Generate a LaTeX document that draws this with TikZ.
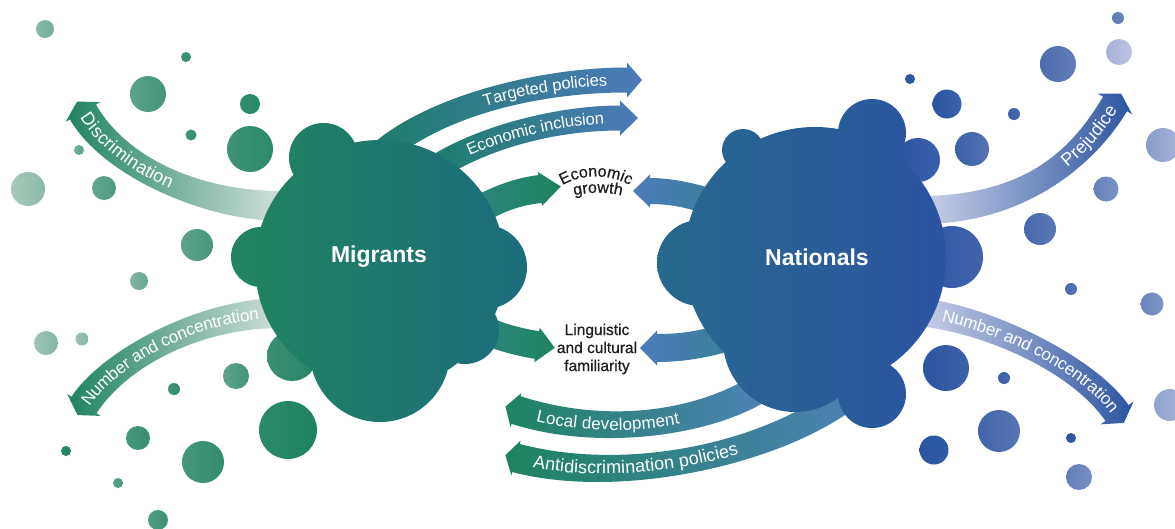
\documentclass[tikz,border=0pt]{standalone}
\usepackage{fontspec}
\setmainfont{Liberation Sans}
\newfontface\medface{Liberation Sans}[FakeBold=0.7]
\usetikzlibrary{calc,decorations.text}
\definecolor{mg}{HTML}{1E8360}
\definecolor{gl}{HTML}{C3D5CC}
\definecolor{bb}{HTML}{2B55A0}
\definecolor{bl}{HTML}{BDC3E3}
\definecolor{txtc}{HTML}{1E1E1E}
\definecolor{HTMLa}{HTML}{1F7D6B}
\definecolor{HTMLb}{HTML}{4C7BBB}
\definecolor{HTMLc}{HTML}{3B8E72}
\definecolor{HTMLd}{HTML}{28856A}
\definecolor{tealG}{HTML}{2E8580}
\definecolor{blueL}{HTML}{4B7CBC}
\definecolor{tealB}{HTML}{3A7F98}
\definecolor{blueT}{HTML}{4E82B9}
\newcommand\gbub[5]{\shade[left color=mg!#4!gl, right color=mg!#5!gl] (#1,#2) circle[radius=#3];}
\newcommand\bbub[5]{\shade[left color=bb!#4!bl, right color=bb!#5!bl] (#1,#2) circle[radius=#3];}
\newcommand\fatarrow[9]{%
  \coordinate (#1-p0) at (#2); \coordinate (#1-p1) at (#3);
  \coordinate (#1-p2) at (#4); \coordinate (#1-p3) at (#5);
  \coordinate (#1-a0) at ($(#1-p0)!#6!90:(#1-p1)$);
  \coordinate (#1-a1) at ($(#1-p1)!#6!-90:(#1-p0)$);
  \coordinate (#1-a2) at ($(#1-p2)!#6!90:(#1-p3)$);
  \coordinate (#1-a3) at ($(#1-p3)!#6!-90:(#1-p2)$);
  \coordinate (#1-b0) at ($(#1-p0)!#6!-90:(#1-p1)$);
  \coordinate (#1-b1) at ($(#1-p1)!#6!90:(#1-p0)$);
  \coordinate (#1-b2) at ($(#1-p2)!#6!-90:(#1-p3)$);
  \coordinate (#1-b3) at ($(#1-p3)!#6!90:(#1-p2)$);
  \coordinate (#1-ha) at ($(#1-p3)!#7!-90:(#1-p2)$);
  \coordinate (#1-hb) at ($(#1-p3)!#7!90:(#1-p2)$);
  \coordinate (#1-tip) at ($(#1-p3)!-#8!(#1-p2)$);
  \shade[#9] (#1-a0) .. controls (#1-a1) and (#1-a2) .. (#1-a3) -- (#1-ha) -- (#1-tip) -- (#1-hb) -- (#1-b3) .. controls (#1-b2) and (#1-b1) .. (#1-b0) -- cycle;
}
\newcommand\wtS{\color{white}\fontsize{16.5}{19}\selectfont}
\newcommand\wtM{\color{white}\fontsize{17}{20}\selectfont}
\newcommand\wtL{\color{white}\fontsize{18}{21}\selectfont}
\newcommand\btxt{\color{txtc}\medface\fontsize{16}{19}\selectfont}
\tikzset{
  cloudlabel/.style={text=white, font=\fontsize{23}{27}\selectfont\bfseries},
  midlabel/.style={text=txtc, font=\medface\fontsize{15.5}{18}\selectfont, align=center},
  outerG/.style={left color=mg, middle color=mg!60!gl, right color=gl!70!white},
  outerB/.style={left color=bl!80!white, middle color=bb!80!bl, right color=bb},
  toN/.style={left color=HTMLa, right color=HTMLb},
}
\begin{document}
\begin{tikzpicture}[x=1pt,y=-1pt]
\useasboundingbox (0,0) rectangle (1175,528);
\fill[white] (0,0) rectangle (1175,528);

% ---------- bubbles (left, green) ----------
\gbub{45}{29}{9}{35}{48}
\gbub{186}{57}{5}{80}{88}
\gbub{148}{94}{18}{62}{78}
\gbub{250}{104}{10}{88}{95}
\gbub{191}{135}{5.5}{78}{88}
\gbub{250}{149}{23}{80}{92}
\gbub{79}{150}{5}{50}{60}
\gbub{28}{189}{17}{15}{35}
\gbub{104}{188}{12}{58}{70}
\gbub{197}{245}{16}{62}{75}
\gbub{139}{281}{9}{40}{55}
\gbub{46}{343}{12}{22}{38}
\gbub{82}{339}{6.5}{25}{35}
\gbub{236}{376}{13}{62}{78}
\gbub{174}{389}{6}{80}{88}
\gbub{288}{430}{29}{92}{100}
\gbub{138}{438}{12}{75}{85}
\gbub{66}{451}{5}{95}{100}
\gbub{203}{462}{21}{75}{88}
\gbub{118}{483}{5}{65}{75}
\gbub{158}{520}{10}{70}{80}
% ---------- bubbles (right, blue) ----------
\bbub{1118}{18}{6}{65}{55}
\bbub{1119}{52}{13}{15}{0}
\bbub{1058}{64}{18}{78}{62}
\bbub{910}{79}{5}{100}{95}
\bbub{947}{104}{14.5}{100}{88}
\bbub{1014}{114}{6}{90}{82}
\bbub{972}{149}{17}{90}{72}
\bbub{1163}{145}{17}{35}{15}
\bbub{1106}{189}{12.5}{60}{45}
\bbub{1040}{229}{16}{82}{68}
\bbub{1071}{289}{6}{80}{70}
\bbub{1152}{304}{11.5}{58}{42}
\bbub{946}{368}{23}{100}{88}
\bbub{1004}{378}{6}{90}{82}
\bbub{999}{431}{21}{85}{70}
\bbub{1071}{438}{5}{100}{95}
\bbub{934}{450}{14.5}{100}{95}
\bbub{1079}{477}{13}{62}{48}
\bbub{1170}{405}{16}{30}{15}

% ---------- outer arrows ----------
\fatarrow{disc}{285,206}{205,207}{115,168}{83,112}{15pt}{20pt}{12pt}{outerG}
\fatarrow{numL}{285,313}{200,312}{114,359}{84,405}{15pt}{20pt}{12pt}{outerG}
\fatarrow{prej}{925,210}{1030,208}{1085,154}{1115,104}{14pt}{20pt}{12pt}{outerB}
\fatarrow{numR}{920,312}{990,320}{1084,365}{1117,413}{14pt}{20pt}{12pt}{outerB}
% ---------- middle arrows ----------
\fatarrow{targ}{385,150}{440,105}{540,80}{627,80}{12.5pt}{17.5pt}{15pt}{toN}
\fatarrow{econ}{440,165}{490,135}{560,118}{620,118}{12.5pt}{17.5pt}{18pt}{toN}
\fatarrow{egM}{470,215}{495,200}{515,192}{540,189}{14pt}{17pt}{21pt}{left color=tealG, right color=mg}
\fatarrow{egN}{720,205}{695,196}{672,191}{650,191}{13pt}{16.5pt}{17pt}{left color=blueL, right color=tealB}
\fatarrow{lgM}{478,328}{500,337}{518,342}{537,345}{14pt}{17.5pt}{18pt}{left color=tealG, right color=mg}
\fatarrow{lgN}{725,338}{700,345}{680,348}{657,348}{14pt}{17.5pt}{17pt}{left color=blueL, right color=tealB}
\fatarrow{locd}{760,388}{700,425}{600,437}{516,410}{14.5pt}{18pt}{11pt}{left color=mg, right color=blueT}
\fatarrow{anti}{860,385}{790,450}{630,488}{516,458}{14.5pt}{18pt}{11pt}{left color=mg, right color=blueT}

% ---------- clouds ----------
\shade[left color=HTMLc, right color=HTMLd] (292,356) circle[radius=25];
\shade[left color={rgb,255:red,33;green,132;blue,95}, right color={rgb,255:red,28;green,108;blue,123}]
  (380,265) circle[radius=125] (380,352) circle[radius=70]
  (323.5,157.5) circle[radius=34.5] (261,257) circle[radius=30]
  (485,267) circle[radius=42] (465,330) circle[radius=34];
\shade[left color={rgb,255:red,43;green,86;blue,161}, right color={rgb,255:red,58;green,95;blue,169}] (918,160) circle[radius=22];
\shade[left color={rgb,255:red,49;green,88;blue,164}, right color={rgb,255:red,65;green,99;blue,172}] (952,257) circle[radius=31];
\shade[left color={rgb,255:red,39;green,105;blue,142}, middle color={rgb,255:red,42;green,87;blue,158}, right color={rgb,255:red,43;green,84;blue,161}]
  (815,258) circle[radius=131] (795,340) circle[radius=72]
  (743,150) circle[radius=21] (872,133) circle[radius=34]
  (700,263) circle[radius=43] (872,394) circle[radius=34];

\node[cloudlabel] (mig) at (379,257) {Migrants};
\node[cloudlabel] (nat) at (817,257) {Nationals};
\node[midlabel] (ling) at (597,349) {Linguistic\\and cultural\\familiarity};

% ---------- texts on arrows ----------
\path[decorate, decoration={text along path, raise=-5.5pt, text align={left, left indent=3pt}, text={|\wtL|Discrimination}}]
  (disc-p3) .. controls (disc-p2) and (disc-p1) .. (disc-p0);
\path[decorate, decoration={text along path, raise=-5.5pt, text align={left, left indent=2pt}, text={|\wtM|Number and concentration}}]
  (numL-p3) .. controls (numL-p2) and (numL-p1) .. (numL-p0);
\path[decorate, decoration={text along path, raise=-5.5pt, text align={right, right indent=4pt}, text={|\wtL|Prejudice}}]
  (prej-p0) .. controls (prej-p1) and (prej-p2) .. (prej-p3);
\path[decorate, decoration={text along path, raise=-5.5pt, text align={right, right indent=3pt}, text={|\wtM|Number and concentration}}]
  (numR-p0) .. controls (numR-p1) and (numR-p2) .. (numR-p3);
\path[decorate, decoration={text along path, raise=-5.5pt, text align={right, right indent=20pt}, text={|\wtS|Targeted policies}}]
  (targ-p0) .. controls (targ-p1) and (targ-p2) .. (targ-p3);
\path[decorate, decoration={text along path, raise=-5.5pt, text align={right, right indent=16pt}, text={|\wtS|Economic inclusion}}]
  (econ-p0) .. controls (econ-p1) and (econ-p2) .. (econ-p3);
\path[decorate, decoration={text along path, raise=-5.5pt, text align={left, left indent=22pt}, text={|\wtM|Local development}}]
  (locd-p3) .. controls (locd-p2) and (locd-p1) .. (locd-p0);
\path[decorate, decoration={text along path, raise=-5.5pt, text align={left, left indent=18pt}, text={|\wtL|Antidiscrimination policies}}]
  (anti-p3) .. controls (anti-p2) and (anti-p1) .. (anti-p0);
% ---------- economic growth ----------
\coordinate (eg1a) at (556,190); \coordinate (eg1b) at (636,190);
\coordinate (eg2a) at (566,198); \coordinate (eg2b) at (630,198);
\path[decorate, decoration={text along path, text align=center, text={|\btxt|Economic}}]
  (eg1a) .. controls (576,172) and (616,172) .. (eg1b);
\path[decorate, decoration={text along path, text align=center, text={|\btxt|growth}}]
  (eg2a) .. controls (585,191) and (611,191) .. (eg2b);
\end{tikzpicture}
\end{document}
